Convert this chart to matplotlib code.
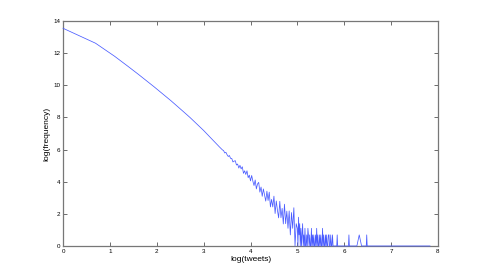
import numpy as np
import matplotlib
matplotlib.use('Agg')
from matplotlib import pyplot as plt

# log(tweets) / log(frequency)
smooth_x = [0.000, 0.693, 1.099, 1.386, 1.609, 1.792, 1.946, 2.079, 2.197, 2.303,
            2.398, 2.485, 2.565, 2.639, 2.708, 2.773, 2.833, 2.890, 2.944, 2.996,
            3.045, 3.091, 3.135, 3.178, 3.219, 3.258, 3.296, 3.332, 3.367, 3.401]
smooth_y = [13.55, 12.62, 11.81, 11.18, 10.68, 10.26, 9.90, 9.58, 9.30, 9.04,
            8.80, 8.58, 8.37, 8.18, 8.00, 7.82, 7.66, 7.50, 7.35, 7.20,
            7.05, 6.91, 6.78, 6.65, 6.52, 6.40, 6.29, 6.18, 6.08, 5.98]

noisy_x = [3.425, 3.450, 3.475, 3.500, 3.525, 3.550, 3.575, 3.600, 3.625, 3.650,
           3.675, 3.700, 3.725, 3.750, 3.775, 3.800, 3.825, 3.850, 3.875, 3.900,
           3.925, 3.950, 3.975, 4.000, 4.025, 4.050, 4.075, 4.100, 4.125, 4.150,
           4.175, 4.200, 4.225, 4.250, 4.275, 4.300, 4.325, 4.350, 4.375, 4.400,
           4.425, 4.450, 4.475, 4.500, 4.525, 4.550, 4.575, 4.600, 4.625, 4.650,
           4.675, 4.700, 4.725, 4.750, 4.775, 4.800, 4.825, 4.850, 4.875, 4.900,
           4.925, 4.950, 4.975]
noisy_y = [5.94, 5.79, 5.83, 5.68, 5.57, 5.63, 5.45, 5.45, 5.23, 5.28,
           5.31, 5.04, 5.10, 4.85, 5.02, 4.80, 4.93, 4.52, 4.68, 4.45,
           4.68, 4.25, 4.41, 4.05, 4.39, 4.04, 3.76, 4.11, 3.55, 3.86,
           3.96, 3.35, 3.67, 3.09, 3.55, 3.17, 2.79, 3.41, 2.83, 3.35,
           2.43, 2.90, 2.43, 3.10, 2.02, 2.80, 2.22, 1.75, 2.78, 1.76,
           2.34, 1.37, 2.60, 1.39, 2.17, 1.10, 2.18, 0.69, 2.08, 1.10,
           2.38, 0.00, 1.39]

tail_x = [5.000, 5.012, 5.025, 5.037, 5.050, 5.062, 5.075, 5.087, 5.100, 5.112,
          5.125, 5.137, 5.150, 5.162, 5.175, 5.187, 5.200, 5.212, 5.225, 5.237,
          5.250, 5.262, 5.275, 5.287, 5.300, 5.312, 5.325, 5.337, 5.350, 5.362,
          5.375, 5.387, 5.400, 5.412, 5.425, 5.437, 5.450, 5.462, 5.475, 5.487,
          5.500, 5.512, 5.525, 5.537, 5.550, 5.562, 5.575, 5.587, 5.600, 5.612,
          5.625, 5.637, 5.650, 5.662, 5.675, 5.687, 5.700, 5.712, 5.725, 5.737,
          5.750, 5.762, 5.840, 5.850, 5.860, 6.090, 6.100, 6.110, 6.270, 6.320,
          6.370, 6.470, 6.480, 6.490, 7.830]
tail_y = [1.10, 0.00, 1.79, 0.69, 1.39, 0.00, 1.10, 0.00, 0.69, 1.39,
          0.00, 0.69, 0.00, 1.10, 0.00, 0.00, 0.69, 0.00, 1.10, 0.69,
          0.00, 0.69, 0.00, 0.00, 1.10, 0.00, 0.69, 0.00, 0.69, 0.00,
          0.00, 0.69, 0.00, 1.10, 0.00, 0.69, 0.00, 0.00, 0.69, 0.00,
          0.69, 0.00, 0.00, 1.10, 0.00, 0.69, 0.00, 0.00, 0.69, 0.00,
          0.69, 0.00, 0.00, 0.69, 0.69, 0.00, 0.00, 0.69, 0.00, 0.00,
          0.69, 0.00, 0.00, 0.69, 0.00, 0.00, 0.69, 0.00, 0.00, 0.69,
          0.00, 0.00, 0.69, 0.00, 0.00]

x = smooth_x + noisy_x + tail_x
y = smooth_y + noisy_y + tail_y

plt.rcParams['font.family'] = ['Liberation Sans', 'DejaVu Sans']

fig = plt.figure(figsize=(4.85, 2.77), dpi=100)
ax = fig.add_axes([0.130, 0.112, 0.773, 0.812])

ax.plot(x, y, color='#4a5cff', lw=0.55, zorder=3, clip_on=False)

ax.set_xlim(0, 8)
ax.set_ylim(0, 14)
ax.set_xticks(range(0, 9))
ax.set_yticks(range(0, 15, 2))
ax.tick_params(direction='in', length=3, width=0.6, colors='#555555',
               labelsize=4.5, labelcolor='black', top=True, right=True, pad=2)
for side in ['left', 'bottom', 'right', 'top']:
    ax.spines[side].set_color('#777777')
    ax.spines[side].set_linewidth(0.9)

ax.set_xlabel('log(tweets)', fontsize=6, labelpad=1.5)
ax.set_ylabel('log(frequency)', fontsize=6, labelpad=2)

fig.savefig('out.png', dpi=100)
